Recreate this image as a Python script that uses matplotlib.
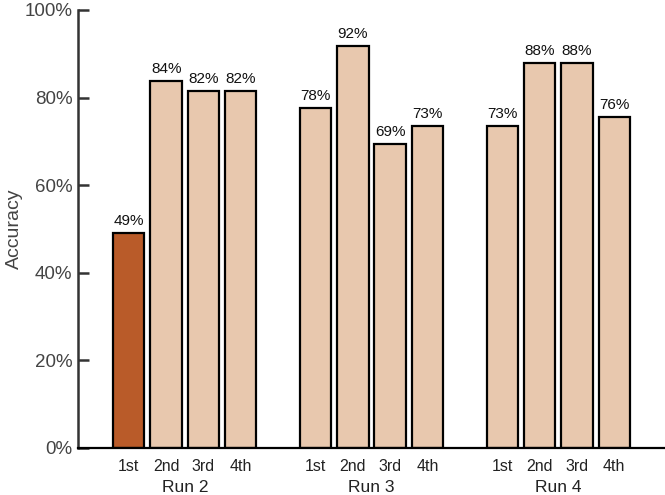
import numpy as np
import matplotlib
matplotlib.use("Agg")
import matplotlib.pyplot as plt
import matplotlib.transforms as mtransforms

plt.rcParams['font.family'] = ['Liberation Sans', 'DejaVu Sans']

# data
runs = ["Run 2", "Run 3", "Run 4"]
attempts = ["1st", "2nd", "3rd", "4th"]
accuracy = {
    "Run 2": [49.0, 83.7, 81.6, 81.6],
    "Run 3": [77.6, 91.8, 69.4, 73.5],
    "Run 4": [73.5, 87.8, 87.8, 75.5],
}
labels = {
    "Run 2": ["49%", "84%", "82%", "82%"],
    "Run 3": ["78%", "92%", "69%", "73%"],
    "Run 4": ["73%", "88%", "88%", "76%"],
}
highlight = ("Run 2", 0)

light = "#E8C8AE"
dark = "#B95B29"

fig = plt.figure(figsize=(6.65, 4.95), dpi=100)
ax = fig.add_axes([0.1173, 0.095, 0.8827, 0.885])

xticks, xlabels = [], []
for g, run in enumerate(runs):
    xs = np.arange(len(attempts)) + g * (len(attempts) + 1)
    colors = [dark if (run, i) == highlight else light for i in range(len(attempts))]
    bars = ax.bar(xs, accuracy[run], width=0.84, color=colors,
                  edgecolor="black", linewidth=1.6)
    for b, lab in zip(bars, labels[run]):
        ax.annotate(lab, (b.get_x() + b.get_width() / 2, b.get_height()),
                    xytext=(0, 3.5), textcoords="offset points",
                    ha="center", va="bottom", fontsize=11, color="#111111")
    xticks.extend(xs)
    xlabels.extend(attempts)
    trans = mtransforms.blended_transform_factory(ax.transData, ax.transAxes)
    ax.text(xs.mean(), -0.074, run, transform=trans, ha="center", va="top",
            fontsize=12.5, color="#222222")

ax.set_xticks(xticks)
ax.set_xticklabels(xlabels, fontsize=11.5, color="#222222")
ax.tick_params(axis="x", length=0, pad=8)
ax.set_xlim(-1.36, 14.36)

ax.set_ylim(0, 100)
ax.set_yticks(np.arange(0, 101, 20))
ax.set_yticklabels([f"{v}%" for v in range(0, 101, 20)], fontsize=13.5, color="#444444")
ax.tick_params(axis="y", direction="in", length=8, width=1.8, color="#333333", pad=4)
ax.set_ylabel("Accuracy", fontsize=14, color="#444444", labelpad=1)

ax.spines["top"].set_visible(False)
ax.spines["right"].set_visible(False)
ax.spines["left"].set_color("#333333")
ax.spines["left"].set_linewidth(1.8)
ax.spines["bottom"].set_color("black")
ax.spines["bottom"].set_linewidth(1.6)
for s in ax.spines.values():
    s.set_clip_on(False)

fig.savefig("out.png", dpi=100)
